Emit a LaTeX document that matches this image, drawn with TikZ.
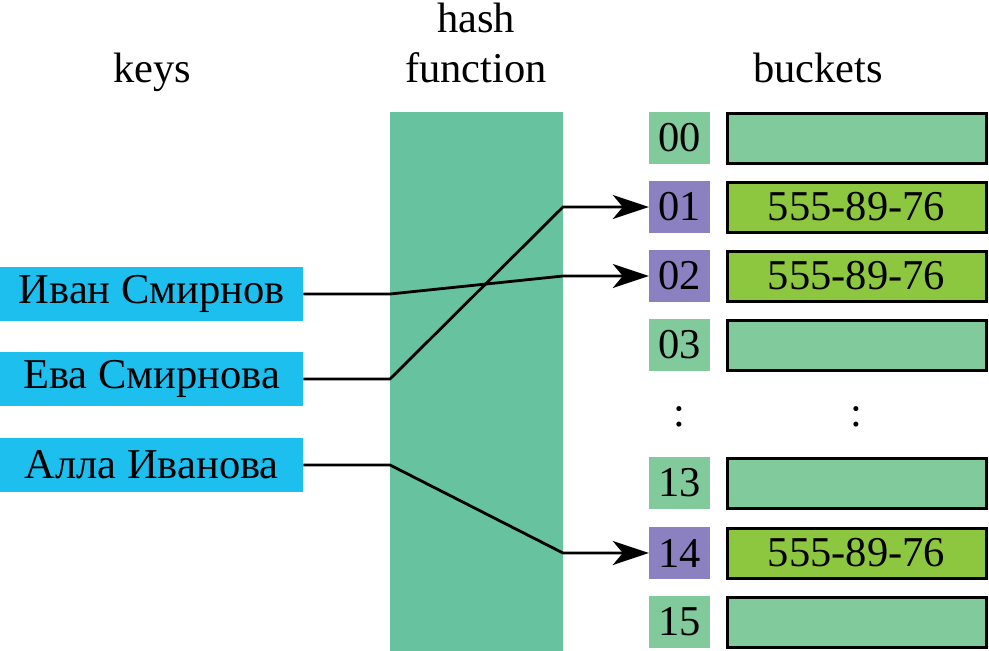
\documentclass[tikz,border=0pt]{standalone}
\usepackage{fontspec}
\setmainfont{Liberation Serif}
\newfontfamily\tnr{Liberation Serif}
\usetikzlibrary{arrows.meta}
\definecolor{keyblue}{HTML}{1DBFEF}
\definecolor{hashgreen}{HTML}{66C29F}
\definecolor{idxgreen}{HTML}{80CA9C}
\definecolor{idxpurple}{HTML}{8B80C0}
\definecolor{fullgreen}{HTML}{8DC63F}
\begin{document}
\begin{tikzpicture}[x=1pt,y=-1pt,
  every node/.style={font=\tnr\fontsize{42.5}{50}\selectfont, inner sep=0pt},
  keybox/.style={fill=keyblue, minimum width=303pt, minimum height=54pt, anchor=west},
  idx/.style={fill=idxgreen, minimum width=61pt, minimum height=52pt},
  idxhit/.style={idx, fill=idxpurple},
  bucket/.style={draw=black, line width=3pt, fill=idxgreen, minimum width=259pt, minimum height=50pt},
  bucketfull/.style={bucket, fill=fullgreen},
  conn/.style={line width=2.8pt, -{Stealth[length=36pt,width=24pt,inset=10pt]}}
]
\useasboundingbox (0,0) rectangle (989,651);
% titles
\node[anchor=base] (tkeys) at (152,82) {keys};
\node[anchor=base] (thash) at (476,32) {hash};
\node[anchor=base] (tfunc) at (476,82) {function};
\node[anchor=base] (tbuck) at (818,82) {buckets};
% hash function column
\node[fill=hashgreen, minimum width=173pt, minimum height=539pt, anchor=north west] (hash) at (390,112) {};
% keys
\node[keybox] (k1) at (0,294) {Иван Смирнов};
\node[keybox] (k2) at (0,379) {Ева Смирнова};
\node[keybox] (k3) at (0,465) {Алла Иванова};
% index boxes
\node[idx] (i00) at (679.5,138) {00};
\node[idxhit] (i01) at (679.5,207) {01};
\node[idxhit] (i02) at (679.5,276) {02};
\node[idx] (i03) at (679.5,345) {03};
\node (d1) at (679.5,417) {:};
\node[idx] (i13) at (679.5,483) {13};
\node[idxhit] (i14) at (679.5,553) {14};
\node[idx] (i15) at (679.5,622) {15};
% buckets
\node[bucket] (b00) at (856.5,138) {};
\node[bucketfull] (b01) at (856.5,207) {555-89-76};
\node[bucketfull] (b02) at (856.5,276) {555-89-76};
\node[bucket] (b03) at (856.5,345) {};
\node (d2) at (856.5,417) {:};
\node[bucket] (b13) at (856.5,483) {};
\node[bucketfull] (b14) at (856.5,553) {555-89-76};
\node[bucket] (b15) at (856.5,622) {};
% connectors
\draw[conn] (k1.east) -- (390,294) -- (563,276) -- (i02.west);
\draw[conn] (k2.east) -- (390,379) -- (563,207) -- (i01.west);
\draw[conn] (k3.east) -- (390,465) -- (563,553) -- (i14.west);
\end{tikzpicture}
\end{document}
